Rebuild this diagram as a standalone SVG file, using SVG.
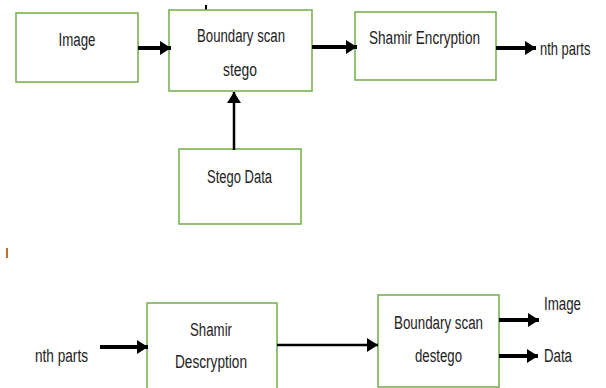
<svg xmlns="http://www.w3.org/2000/svg" width="606" height="388" viewBox="0 0 606 388">
<style>
.box{fill:#fff;stroke:#70AD47;stroke-width:1.5}
.t{font-family:"Liberation Sans",sans-serif;font-size:18px;fill:#222;text-anchor:middle}
.tl{font-family:"Liberation Sans",sans-serif;font-size:18px;fill:#222}
.thick{stroke:#000;stroke-width:4;fill:none}
.thin{stroke:#000;stroke-width:2.5;fill:none}
</style>
<defs>
<marker id="ah" markerUnits="userSpaceOnUse" markerWidth="12" markerHeight="14" refX="11" refY="7" orient="auto">
<path d="M0,0 L11,7 L0,14 z" fill="#000"/>
</marker>
</defs>
<rect x="205" y="5" width="2" height="5" fill="#000"/>
<rect x="6" y="248" width="2" height="10" fill="#C07020"/>
<g id="image">
<rect class="box" x="16" y="13" width="122" height="69"/>
<text class="t" x="77" y="46" textLength="37" lengthAdjust="spacingAndGlyphs">Image</text>
</g>
<g id="bstego">
<rect class="box" x="169" y="10" width="143" height="81"/>
<text class="t" x="241" y="42" textLength="88" lengthAdjust="spacingAndGlyphs">Boundary scan</text>
<text class="t" x="240" y="76" textLength="34" lengthAdjust="spacingAndGlyphs">stego</text>
</g>
<g id="shamirenc">
<rect class="box" x="355" y="12" width="141" height="68"/>
<text class="t" x="424.5" y="44" textLength="111" lengthAdjust="spacingAndGlyphs">Shamir Encryption</text>
</g>
<g id="stegodata">
<rect class="box" x="179" y="149" width="122" height="75"/>
<text class="t" x="239.5" y="183" textLength="65" lengthAdjust="spacingAndGlyphs">Stego Data</text>
</g>
<g id="nthparts1">
<text class="tl" transform="translate(540,55) scale(0.72,1)" x="0" y="0">nth parts</text>
</g>
<g id="nthparts2">
<text class="tl" x="35" y="362" textLength="53" lengthAdjust="spacingAndGlyphs">nth parts</text>
</g>
<g id="shamirdec">
<rect class="box" x="147" y="303" width="130" height="90"/>
<text class="t" x="211" y="336" textLength="42" lengthAdjust="spacingAndGlyphs">Shamir</text>
<text class="t" x="211" y="368" textLength="72" lengthAdjust="spacingAndGlyphs">Descryption</text>
</g>
<g id="bdestego">
<rect class="box" x="378" y="295" width="121" height="92"/>
<text class="t" x="438.5" y="329" textLength="89" lengthAdjust="spacingAndGlyphs">Boundary scan</text>
<text class="t" x="438.5" y="362" textLength="47" lengthAdjust="spacingAndGlyphs">destego</text>
</g>
<g id="outimage">
<text class="tl" x="544" y="310" textLength="37" lengthAdjust="spacingAndGlyphs">Image</text>
</g>
<g id="outdata">
<text class="tl" x="544" y="362" textLength="28" lengthAdjust="spacingAndGlyphs">Data</text>
</g>
<g id="connectors">
<line class="thick" x1="138" y1="48" x2="171" y2="48" marker-end="url(#ah)"/>
<line class="thick" x1="312" y1="47" x2="357" y2="47" marker-end="url(#ah)"/>
<line class="thick" x1="496" y1="48" x2="536" y2="48" marker-end="url(#ah)"/>
<line class="thin" x1="234" y1="150" x2="234" y2="92" marker-end="url(#ah)"/>
<line class="thick" x1="100" y1="347" x2="148" y2="347" marker-end="url(#ah)"/>
<line class="thin" x1="277" y1="345" x2="378" y2="345" marker-end="url(#ah)"/>
<line class="thick" x1="499" y1="320" x2="539" y2="320" marker-end="url(#ah)"/>
<line class="thick" x1="499" y1="356" x2="538" y2="356" marker-end="url(#ah)"/>
</g>
</svg>
